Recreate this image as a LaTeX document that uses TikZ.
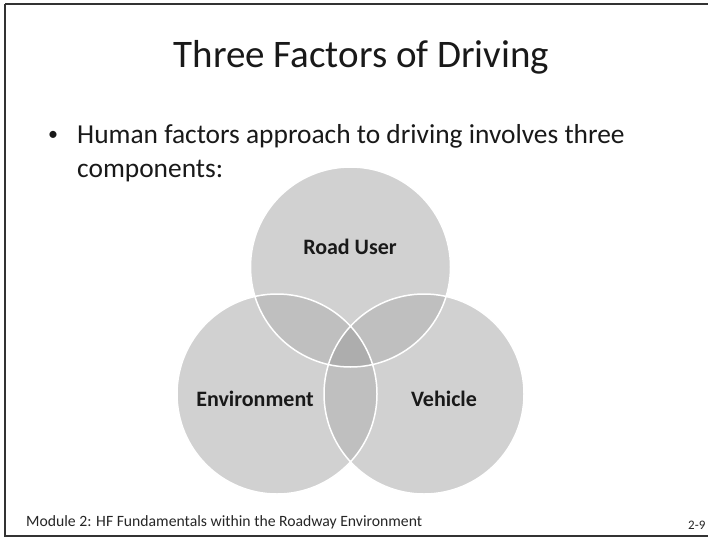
\documentclass[tikz,border=0pt]{standalone}
\usepackage{fontspec}
\setmainfont{Carlito}
\usetikzlibrary{positioning}
\definecolor{vennone}{gray}{0.82}
\definecolor{venntwo}{gray}{0.75}
\definecolor{vennall}{gray}{0.68}
\definecolor{frame}{gray}{0.2}
\tikzstyle{set}    = [circle, minimum size=200pt, inner sep=0pt, fill=vennone]
\tikzstyle{rim}    = [draw=white, line width=1.5pt]
\tikzstyle{vlabel} = [font=\fontsize{22}{24}\selectfont\bfseries, text=black!90]
\tikzstyle{txt}    = [font=\fontsize{27.4}{34}\selectfont, text=black!90, anchor=base west, inner sep=0pt]
\tikzstyle{foot}   = [text=black!85, anchor=base west, inner sep=0pt]

\begin{document}
\begin{tikzpicture}[x=1pt, y=-1pt]
\useasboundingbox (0,0) rectangle (708,540);
\fill [white] (0,0) rectangle (708,540);
\draw [frame, line width=1.5pt] (5,4) -- (714,4) (5,4) -- (5,536) -- (714,536);

% text
\node [font=\fontsize{39}{42}\selectfont, text=black!90, anchor=base, inner sep=0pt] at (361.5,68) (title) {Three Factors of Driving};
\node [txt] at (77,143) (line1) {Human factors approach to driving involves three};
\node [txt] at (77,177) (line2) {components:};
\node [txt, font=\fontsize{20}{20}\selectfont, anchor=base] at (53,141) (dot) {\textbullet};

% circles
\node [set] at (350.5,267) (ruser) {};
\node [set] at (277,394)   (env)   {};
\node [set] at (424,394)   (veh)   {};

% overlaps
\begin{scope}
  \clip (ruser.center) circle [radius=100];
  \fill [venntwo] (env.center) circle [radius=100];
  \fill [venntwo] (veh.center) circle [radius=100];
\end{scope}
\begin{scope}
  \clip (env.center) circle [radius=100];
  \fill [venntwo] (veh.center) circle [radius=100];
  \clip (veh.center) circle [radius=100];
  \fill [vennall] (ruser.center) circle [radius=100];
\end{scope}
\draw [rim] (ruser.center) circle [radius=100]
            (env.center)   circle [radius=100]
            (veh.center)   circle [radius=100];

% labels
\node [vlabel] at (350,247) (lruser) {Road User};
\node [vlabel] at (255,399) (lenv)   {Environment};
\node [vlabel] at (444,399) (lveh)   {Vehicle};

% footer
\node [foot, font=\fontsize{15.7}{18}\selectfont] at (26,526) (module) {Module 2: HF Fundamentals within the Roadway Environment};
\node [foot, font=\fontsize{13}{15}\selectfont] at (688,529) (page) {2-9};

\end{tikzpicture}
\end{document}
